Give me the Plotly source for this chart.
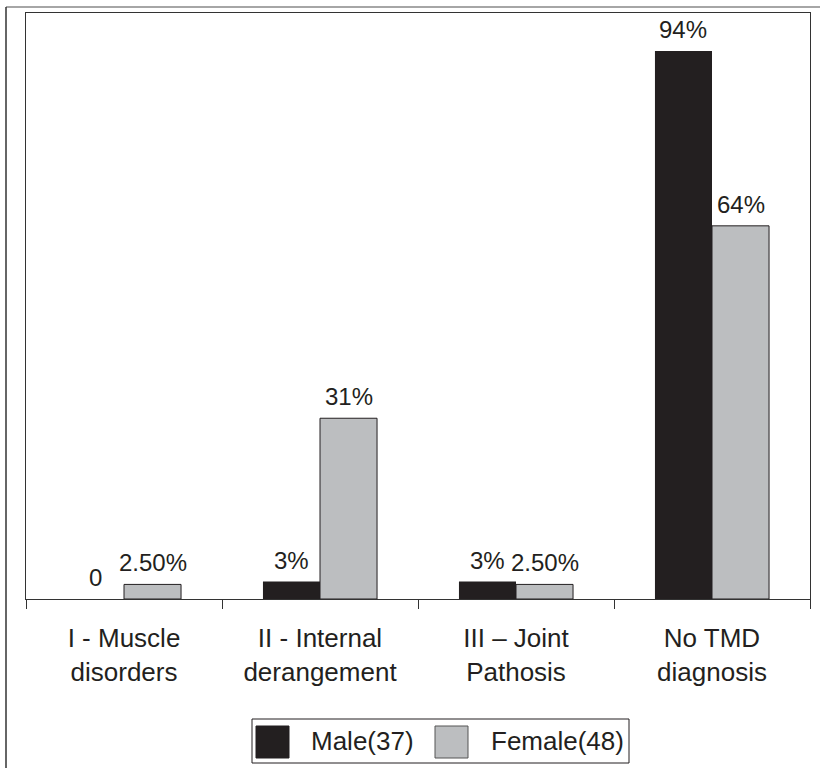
import plotly.graph_objects as go

categories = ["I - Muscle<br>disorders", "II - Internal<br>derangement", "III \u2013 Joint<br>Pathosis", "No TMD<br>diagnosis"]
series_names = ["Male(37)", "Female(48)"]
male_values = [0, 3, 3, 94]
female_values = [2.5, 31, 2.5, 64]
male_labels = ["0", "3%", "3%", "94%"]
female_labels = ["2.50%", "31%", "2.50%", "64%"]

W, H = 820, 768
L, R, T, B = 26, 810, 13, 599
FONT = "Liberation Sans, Arial, sans-serif"
TXT = "#231f20"
MALE_C = "#231f20"
FEMALE_C = "#bcbec0"


def px(x):
    return (x - L) / (R - L)


def py(y):
    return (B - y) / (B - T)


fig = go.Figure()
fig.add_trace(go.Bar(x=categories, y=male_values, name=series_names[0],
                     marker=dict(color=MALE_C, line=dict(width=0)),
                     showlegend=False))
fig.add_trace(go.Bar(x=categories, y=female_values, name=series_names[1],
                     marker=dict(color=FEMALE_C, line=dict(color="#231f20", width=1)),
                     showlegend=False))

annotations = []
half = (R - L) / 4 * (1 - 0.418) / 4
for c, v, t in zip(categories, male_values, male_labels):
    annotations.append(dict(x=c, y=v, xref="x", yref="y", text=t, showarrow=False,
                            xshift=-half, yshift=6, yanchor="bottom",
                            font=dict(size=24, color=TXT, family=FONT)))
for c, v, t in zip(categories, female_values, female_labels):
    annotations.append(dict(x=c, y=v, xref="x", yref="y", text=t, showarrow=False,
                            xshift=half, yshift=6, yanchor="bottom",
                            font=dict(size=24, color=TXT, family=FONT)))

# manual legend
annotations.append(dict(x=px(309), y=py(741), xref="paper", yref="paper", text=series_names[0],
                        showarrow=False, xanchor="left", yanchor="middle",
                        font=dict(size=26, color=TXT, family=FONT)))
annotations.append(dict(x=px(489), y=py(741), xref="paper", yref="paper", text=series_names[1],
                        showarrow=False, xanchor="left", yanchor="middle",
                        font=dict(size=26, color=TXT, family=FONT)))

shapes = [
    # outer border (cropped figure frame)
    dict(type="line", xref="paper", yref="paper", x0=px(6), x1=px(820), y0=py(7), y1=py(7),
         line=dict(color="#888888", width=1.5)),
    dict(type="line", xref="paper", yref="paper", x0=px(6), x1=px(6), y0=py(7), y1=py(768),
         line=dict(color="#333333", width=1.5)),
    # legend box
    dict(type="rect", xref="paper", yref="paper", x0=px(252), x1=px(629), y0=py(719), y1=py(763),
         line=dict(color="#231f20", width=1), fillcolor="rgba(0,0,0,0)"),
    dict(type="rect", xref="paper", yref="paper", x0=px(256), x1=px(289), y0=py(726), y1=py(758),
         line=dict(color="#231f20", width=1), fillcolor=MALE_C),
    dict(type="rect", xref="paper", yref="paper", x0=px(435), x1=px(468), y0=py(726), y1=py(758),
         line=dict(color="#555555", width=1), fillcolor=FEMALE_C),
]

fig.update_layout(
    width=W, height=H,
    margin=dict(l=L, r=W - R, t=T, b=H - B, pad=0),
    paper_bgcolor="white", plot_bgcolor="white",
    barmode="group", bargap=0.418, bargroupgap=0,
    showlegend=False,
    annotations=annotations, shapes=shapes,
    font=dict(family=FONT, color=TXT, size=26),
)
fig.update_xaxes(showline=True, linecolor="#333333", linewidth=1, mirror=True,
                 ticks="outside", tickson="boundaries", ticklen=9, tickcolor="#333333",
                 tickwidth=1, showgrid=False, ticklabelstandoff=16,
                 tickfont=dict(size=26, color=TXT, family=FONT))
fig.update_yaxes(range=[0, 100.5], showline=True, linecolor="#333333", linewidth=1, mirror=True,
                 showticklabels=False, ticks="", showgrid=False, zeroline=False)

fig.write_html("out.html", config={"displayModeBar": False},
               post_script="document.body.style.margin='0';")
